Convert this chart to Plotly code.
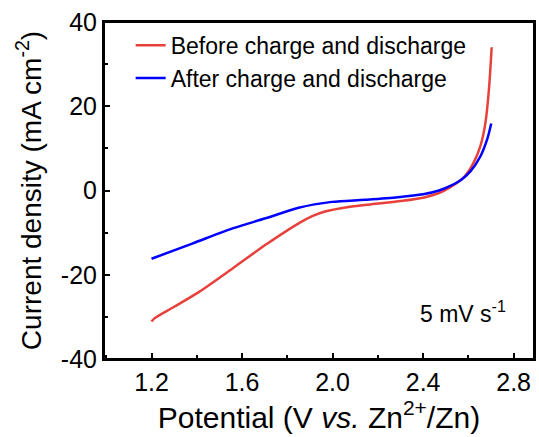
import plotly.graph_objects as go

# Data
before_x = [1.200, 1.214, 1.30, 1.412, 1.558, 1.704, 1.850, 1.91, 1.966, 2.07, 2.20, 2.30, 2.40, 2.47, 2.52, 2.581, 2.625, 2.654, 2.676, 2.691, 2.703]
before_y = [-31.1, -30.3, -27.6, -24.0, -18.5, -12.9, -7.8, -6.1, -5.0, -3.9, -3.1, -2.5, -1.7, -0.6, 0.8, 3.2, 6.8, 10.7, 16.3, 24.1, 34.0]

after_x = [1.200, 1.38, 1.558, 1.704, 1.850, 1.997, 2.143, 2.289, 2.40, 2.47, 2.52, 2.567, 2.610, 2.654, 2.684, 2.701]
after_y = [-16.2, -12.6, -9.0, -6.6, -4.1, -2.7, -2.2, -1.6, -0.9, 0.0, 1.1, 2.5, 4.6, 8.2, 12.3, 15.9]

series_names = ["Before charge and discharge", "After charge and discharge"]
x_ticks = [1.2, 1.6, 2.0, 2.4, 2.8]
x_ticklabels = ["1.2", "1.6", "2.0", "2.4", "2.8"]
y_ticks = [-40, -20, 0, 20, 40]
y_ticklabels = ["-40", "-20", "0", "20", "40"]

FONT = "Liberation Sans, Arial, sans-serif"

fig = go.Figure()
fig.add_trace(go.Scatter(x=before_x, y=before_y, mode="lines", name=series_names[0],
                         line=dict(color="#e8413c", width=2.5, shape="spline", smoothing=0.8)))
fig.add_trace(go.Scatter(x=after_x, y=after_y, mode="lines", name=series_names[1],
                         line=dict(color="#0000ff", width=2.5, shape="spline", smoothing=0.8)))

axis_common = dict(showline=True, linecolor="#000000", linewidth=2, mirror=True,
                   ticks="inside", ticklen=6, tickwidth=2, tickcolor="#000000",
                   showgrid=False, zeroline=False,
                   tickfont=dict(family=FONT, size=25, color="black"))

fig.update_xaxes(range=[0.99, 2.89], tickvals=x_ticks, ticktext=x_ticklabels,
                 minor=dict(ticks="inside", ticklen=4, tickwidth=2, tickcolor="#000000", dtick=0.2, tick0=1.0),
                 title=dict(text="Potential (V <i>vs.</i> Zn<sup>2+</sup>/Zn)",
                            font=dict(family=FONT, size=30, color="black"), standoff=12),
                 **axis_common)
fig.update_yaxes(range=[-40, 40], tickvals=y_ticks, ticktext=y_ticklabels,
                 minor=dict(ticks="inside", ticklen=4, tickwidth=2, tickcolor="#000000", dtick=10, tick0=0),
                 title=dict(text="Current density (mA cm<sup>-2</sup>)",
                            font=dict(family=FONT, size=28, color="black"), standoff=11),
                 **axis_common)

# plot frame
fig.add_shape(type="rect", xref="paper", yref="paper", x0=0, y0=0, x1=1, y1=1,
              line=dict(color="#000000", width=2), layer="above")

fig.add_annotation(x=0.94, y=0.14, xref="paper", yref="paper", xanchor="right", yanchor="middle",
                   text="5 mV s<sup>-1</sup>", showarrow=False,
                   font=dict(family=FONT, size=23, color="black"))

fig.update_layout(
    width=539, height=437,
    margin=dict(l=104, r=3, t=22, b=78),
    paper_bgcolor="white", plot_bgcolor="white",
    showlegend=True,
    legend=dict(x=0.062, y=0.995, xanchor="left", yanchor="top", bgcolor="rgba(0,0,0,0)",
                font=dict(family=FONT, size=23, color="black"),
                tracegroupgap=0, itemwidth=30),
)

fig.write_html("out.html")
